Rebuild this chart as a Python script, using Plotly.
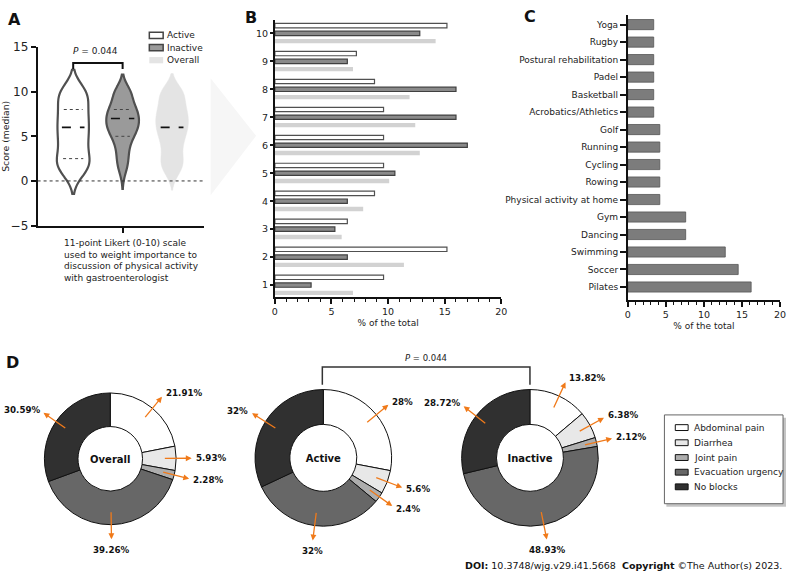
import numpy as np
import plotly.graph_objects as go

W, H = 793, 580
FONT = "DejaVu Sans"
TXT = "#222222"

# ---------------- data ----------------
# Panel B: % of the total for each Likert score
scores = [1, 2, 3, 4, 5, 6, 7, 8, 9, 10]
active_pct = [9.6, 15.2, 6.4, 8.8, 9.6, 9.6, 9.6, 8.8, 7.2, 15.2]
inactive_pct = [3.2, 6.4, 5.3, 6.4, 10.6, 17.0, 16.0, 16.0, 6.4, 12.8]
overall_pct = [6.9, 11.4, 5.9, 7.8, 10.1, 12.8, 12.4, 11.9, 6.9, 14.2]
n_active, n_inactive = 125, 94

# Panel A summary lines (median / quartiles)
groups = ["Active", "Inactive", "Overall"]
a_median = [6, 7, 6]
a_q1 = [2.5, 5, None]
a_q3 = [8, 8, None]
p_value = "0.044"

# Panel C
sports = ["Pilates", "Soccer", "Swimming", "Dancing", "Gym", "Physical activity at home",
          "Rowing", "Cycling", "Running", "Golf", "Acrobatics/Athletics", "Basketball",
          "Padel", "Postural rehabilitation", "Rugby", "Yoga"]
sport_pct = [16.2, 14.5, 12.8, 7.6, 7.6, 4.2, 4.2, 4.2, 4.2, 4.2, 3.4, 3.4, 3.4, 3.4, 3.4, 3.4]

# Panel D
blocks = ["Abdominal pain", "Diarrhea", "Joint pain", "Evacuation urgency", "No blocks"]
overall_blocks = [21.91, 5.93, 2.28, 39.26, 30.59]
active_blocks = [28, 5.6, 2.4, 32, 32]
inactive_blocks = [13.82, 6.38, 2.12, 48.93, 28.72]
block_colors = ["#ffffff", "#e8e8e8", "#adadad", "#676767", "#303030"]


def px(x):
    return x / W


def py(y):
    return 1 - y / H


fig = go.Figure()

# ---------------- Panel A: violins ----------------
active_raw = np.repeat(scores, np.rint(np.array(active_pct) * n_active / 100).astype(int)).astype(float)
inactive_raw = np.repeat(scores, np.rint(np.array(inactive_pct) * n_inactive / 100).astype(int)).astype(float)
overall_raw = np.concatenate([active_raw, inactive_raw])
raws = [active_raw, inactive_raw, overall_raw]


def silverman(d):
    sd = d.std(ddof=1)
    q1, q3 = np.percentile(d, [25, 75])
    return 1.059 * min(sd, (q3 - q1) / 1.349) * len(d) ** -0.2


def half_width(d, bw, ys, full):
    grid = np.linspace(d.min() - 2 * bw, d.max() + 2 * bw, 500)
    dens = lambda y: np.exp(-0.5 * ((np.atleast_1d(y)[:, None] - d[None, :]) / bw) ** 2).sum(1)
    return 0.5 * full * dens(ys) / dens(grid).max()


VW = 0.66
v_fill = ["#ffffff", "#9a9a9a", "#e4e4e4"]
v_line = ["#505050", "#505050", "#e4e4e4"]
v_lw = [2.2, 2.2, 0.5]
for i, g in enumerate(groups):
    bw = silverman(raws[i])
    fig.add_trace(go.Violin(
        y=raws[i], x0=i, name=g, width=VW, bandwidth=bw, spanmode="soft",
        points=False, fillcolor=v_fill[i], line=dict(color=v_line[i], width=v_lw[i]),
        box_visible=False, meanline_visible=False, scalemode="width",
        hoverinfo="skip", xaxis="x", yaxis="y", showlegend=False))
    # median dashed line
    hw = 0.72 * half_width(raws[i], bw, a_median[i], VW)[0]
    fig.add_trace(go.Scatter(x=[i - hw, i + hw], y=[a_median[i]] * 2, mode="lines",
                             line=dict(color="#111", width=1.6, dash="dash"),
                             hoverinfo="skip", showlegend=False, xaxis="x", yaxis="y"))
    for q in (a_q1[i], a_q3[i]):
        if q is None:
            continue
        hq = 0.62 * half_width(raws[i], bw, q, VW)[0]
        fig.add_trace(go.Scatter(x=[i - hq, i + hq], y=[q] * 2, mode="lines",
                                 line=dict(color="#444", width=1, dash="dot"),
                                 hoverinfo="skip", showlegend=False, xaxis="x", yaxis="y"))

# ---------------- Panel B: grouped horizontal bars ----------------
b_series = [("Overall", overall_pct, "#d2d2d2", "#d2d2d2", 0),
            ("Inactive", inactive_pct, "#8a8a8a", "#404040", 1.2),
            ("Active", active_pct, "#ffffff", "#505050", 1.2)]
for name, vals, fc, lc, lw in b_series:
    fig.add_trace(go.Bar(y=scores, x=vals, orientation="h", name=name,
                         marker=dict(color=fc, line=dict(color=lc, width=lw)),
                         xaxis="x2", yaxis="y2", showlegend=False, hoverinfo="x+y"))

# ---------------- Panel C: bars ----------------
fig.add_trace(go.Bar(y=sports, x=sport_pct, orientation="h", width=0.58,
                     marker=dict(color="#7c7c7c", line=dict(color="#555", width=0.8)),
                     xaxis="x3", yaxis="y3", showlegend=False))

# ---------------- Panel D: donuts ----------------
pies = [("Overall", overall_blocks, 108.5, 463, 67.5),
        ("Active", active_blocks, 324, 462, 70),
        ("Inactive", inactive_blocks, 533, 462, 70)]
annotations = []
ORANGE = "#f07a1a"
for name, vals, cx, cy, R in pies:
    fig.add_trace(go.Pie(
        labels=blocks, values=vals, hole=0.49, sort=False, direction="clockwise",
        rotation=0, textinfo="none", showlegend=False,
        marker=dict(colors=block_colors, line=dict(color="#111", width=1)),
        domain=dict(x=[px(cx - R), px(cx + R)], y=[py(cy + R), py(cy - R)]),
        title=dict(text=f"<b>{name}</b>", position="middle center",
                   font=dict(size=10, color="#111", family=FONT))))
    total = sum(vals)
    cum = 0
    for v in vals:
        th = 2 * np.pi * (cum + v / 2) / total
        cum += v
        ux, uy = np.sin(th), -np.cos(th)
        tx, ty = cx + 0.8 * R * ux, cy + 0.8 * R * uy
        hx, hy = cx + 1.22 * R * ux, cy + 1.22 * R * uy
        annotations.append(dict(x=px(hx), y=py(hy), xref="paper", yref="paper",
                                ax=tx - hx, ay=ty - hy, text="", showarrow=True,
                                arrowhead=2, arrowsize=0.9, arrowwidth=1.3, arrowcolor=ORANGE))
        lab = f"<b>{v:g}%</b>"
        if abs(ux) > 0.35:
            annotations.append(dict(x=px(hx + (2 if ux > 0 else -2)), y=py(hy + uy * 5),
                                    xref="paper", yref="paper", text=lab, showarrow=False,
                                    xanchor="left" if ux > 0 else "right", yanchor="middle",
                                    font=dict(size=8.7, color="#111")))
        else:
            annotations.append(dict(x=px(hx), y=py(hy + (4 if uy > 0 else -4)),
                                    xref="paper", yref="paper", text=lab, showarrow=False,
                                    xanchor="center", yanchor="top" if uy > 0 else "bottom",
                                    font=dict(size=8.7, color="#111")))

# ---------------- shapes ----------------
shapes = []
# chevron between A and B
shapes.append(dict(type="path", xref="paper", yref="paper",
                   path=f"M {px(210)},{py(73)} L {px(256)},{py(132)} L {px(210)},{py(193)} Z",
                   fillcolor="#f6f6f6", line=dict(width=0), layer="below"))
# zero dotted line in A
shapes.append(dict(type="line", xref="x domain", yref="y", x0=0, x1=1, y0=0, y1=0,
                   line=dict(color="#333", width=1, dash="dot")))
# P bracket in A
shapes.append(dict(type="path", xref="x", yref="y",
                   path="M 0,12.55 L 0,13.2 L 1,13.2 L 1,12.55",
                   line=dict(color="#111", width=2)))
# legend A swatches
leg_a = [("#ffffff", "#444", 1.5), ("#9a9a9a", "#444", 1.5), ("#e4e4e4", "#e4e4e4", 0)]
leg_a_y = [29, 41.7, 54.5]
for (fc, lc, lw), yy in zip(leg_a, leg_a_y):
    shapes.append(dict(type="rect", xref="paper", yref="paper",
                       x0=px(148), x1=px(162), y0=py(yy + 3.2), y1=py(yy - 3.2),
                       fillcolor=fc, line=dict(color=lc, width=lw)))
for g, yy in zip(groups, leg_a_y):
    annotations.append(dict(x=px(163.5), y=py(yy), xref="paper", yref="paper", text=g,
                            showarrow=False, xanchor="left", yanchor="middle",
                            font=dict(size=9, color=TXT)))
# P text A
annotations.append(dict(x=0.45, y=14.55, xref="x", yref="y", text=f"<i>P</i> = {p_value}",
                        showarrow=False, font=dict(size=9, color=TXT)))
# Likert description
annotations.append(dict(x=px(60), y=py(234.5), xref="paper", yref="paper",
                        text="11-point Likert (0-10) scale<br>used to weight importance to<br>"
                             "discussion of physical activity<br>with gastroenterologist",
                        showarrow=False, xanchor="left", yanchor="top", align="left",
                        font=dict(size=9, color=TXT)))

# P bracket in D
shapes.append(dict(type="path", xref="paper", yref="paper",
                   path=f"M {px(323)},{py(387)} L {px(323)},{py(369)} L {px(533)},{py(369)} L {px(533)},{py(387)}",
                   line=dict(color="#333", width=1.5)))
annotations.append(dict(x=px(428), y=py(360), xref="paper", yref="paper",
                        text=f"<i>P</i> = {p_value}", showarrow=False,
                        font=dict(size=8.5, color=TXT)))

# legend D box with shadow
shapes.append(dict(type="rect", xref="paper", yref="paper", x0=px(671), x1=px(792),
                   y0=py(512), y1=py(421), fillcolor="#c4c4c4", line=dict(width=0)))
shapes.append(dict(type="rect", xref="paper", yref="paper", x0=px(669), x1=px(789),
                   y0=py(509), y1=py(418), fillcolor="#ffffff", line=dict(color="#666", width=1)))
leg_d_y = [431, 446.5, 461.7, 476.7, 491.7]
for lab, col, yy in zip(blocks, block_colors, leg_d_y):
    shapes.append(dict(type="rect", xref="paper", yref="paper", x0=px(680), x1=px(693),
                       y0=py(yy + 3), y1=py(yy - 3), fillcolor=col, line=dict(color="#111", width=1)))
    annotations.append(dict(x=px(697), y=py(yy), xref="paper", yref="paper", text=lab,
                            showarrow=False, xanchor="left", yanchor="middle",
                            font=dict(size=9, color=TXT)))

# panel letters
for L, xx, yy in [("A", 3, 13), ("B", 243, 11), ("C", 525, 10), ("D", 1, 364)]:
    annotations.append(dict(x=px(xx), y=py(yy), xref="paper", yref="paper", text=f"<b>{L}</b>",
                            showarrow=False, xanchor="left", yanchor="middle",
                            font=dict(size=16, color="#111")))

# footer
annotations.append(dict(x=px(790), y=py(572), xref="paper", yref="paper",
                        text="<b>DOI:</b> 10.3748/wjg.v29.i41.5668&nbsp; <b>Copyright</b> ©The Author(s) 2023.",
                        showarrow=False, xanchor="right", yanchor="middle",
                        font=dict(size=9.5, color="#111")))

axis_common = dict(showline=True, linecolor="#111", linewidth=1.8, showgrid=False,
                   zeroline=False, ticks="outside", tickcolor="#111", tickwidth=1.5,
                   tickfont=dict(size=9.5, color=TXT))

fig.update_layout(
    width=W, height=H, margin=dict(l=0, r=0, t=0, b=0),
    paper_bgcolor="white", plot_bgcolor="rgba(0,0,0,0)",
    font=dict(family=FONT, size=9, color=TXT), showlegend=False,
    violinmode="overlay", barmode="group", bargap=0.164, bargroupgap=0.44,
    xaxis=dict(axis_common, domain=[px(35), px(203)], range=[-0.72, 2.64], type="linear",
               tickvals=[1], showticklabels=False, ticklen=6, anchor="y"),
    yaxis=dict(axis_common, domain=[py(224), py(41)], range=[-5, 15], tickvals=[-5, 0, 5, 10, 15],
               ticklen=5, tickfont=dict(size=12, color=TXT), anchor="x",
               title=dict(text="Score (median)", font=dict(size=9.3, color=TXT), standoff=4)),
    xaxis2=dict(axis_common, domain=[px(275), px(504)], range=[0, 20], dtick=5, ticklen=5,
                minor=dict(dtick=1, ticks="outside", ticklen=3, tickcolor="#111", tickwidth=1),
                anchor="y2", title=dict(text="% of the total", font=dict(size=9, color=TXT), standoff=4)),
    yaxis2=dict(axis_common, domain=[py(297), py(13)], range=[0.58, 10.49], tickvals=scores,
                ticklen=3, anchor="x2"),
    xaxis3=dict(axis_common, domain=[px(632), px(786)], range=[0, 20], dtick=5, ticklen=5,
                minor=dict(dtick=1, ticks="outside", ticklen=3, tickcolor="#111", tickwidth=1),
                anchor="y3", title=dict(text="% of the total", font=dict(size=9, color=TXT), standoff=4)),
    yaxis3=dict(axis_common, domain=[py(300), py(8)], range=[-0.73, 15.56], type="category",
                categoryorder="array", categoryarray=sports, ticklen=6,
                tickfont=dict(size=9, color=TXT), anchor="x3"),
    shapes=shapes, annotations=annotations,
)

fig.write_html("out.html", config={"displayModeBar": False},
               post_script="document.body.style.margin='0px';")
